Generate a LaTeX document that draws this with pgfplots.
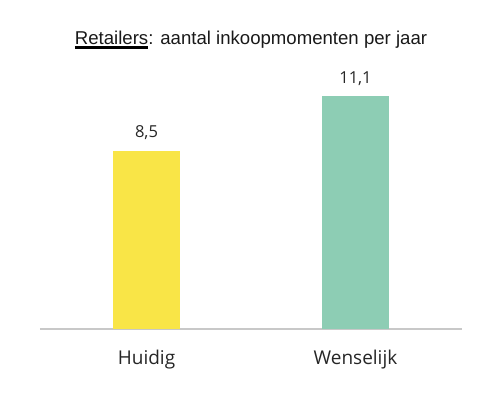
\documentclass[border=0pt]{standalone}
\usepackage{pgfplots}
\pgfplotsset{compat=1.18}
\usepackage{fontspec}
\setmainfont{Open Sans}
\newfontfamily\titlefont{Liberation Sans}
\definecolor{cyel}{HTML}{F9E547}
\definecolor{cgrn}{HTML}{8DCDB4}
\definecolor{cgray}{HTML}{C8C8C8}
\begin{document}
\begin{tikzpicture}
\useasboundingbox (-40pt,-65pt) rectangle (451pt,329pt);
\begin{axis}[
  anchor=south west, at={(0pt,0pt)},
  scale only axis, width=422pt, height=300pt,
  xmin=-0.5096, xmax=1.5096, ymin=0, ymax=14.286,
  axis x line*=bottom, axis y line=none,
  x axis line style={draw=cgray, line width=1.2pt, -},
  xtick={0,1}, xticklabels={Huidig,Wenselijk},
  xtick style={draw=none},
  xticklabel style={font=\fontsize{19}{22}\selectfont, text=black!85, yshift=-13pt},
  ybar, bar width=67pt, bar shift=0pt,
  nodes near coords,
  nodes near coords style={font=\fontsize{16.5}{19}\selectfont, text=black!85, yshift=7pt,
    /pgf/number format/.cd, use comma, fixed, fixed zerofill, precision=1, assume math mode=true},
  clip=false,
]
\addplot[draw=none, fill=cyel] coordinates {(0,8.5)};
\addplot[draw=none, fill=cgrn] coordinates {(1,11.1)};
\end{axis}
\node[font=\titlefont\fontsize{18.6}{22}\selectfont, text=black!90] at (211pt,289pt)
  {\vtop{\hbox{Retailers}\kern1.5pt{\color{black}\hrule height 2.4pt}}: aantal inkoopmomenten per jaar};
\end{tikzpicture}
\end{document}
